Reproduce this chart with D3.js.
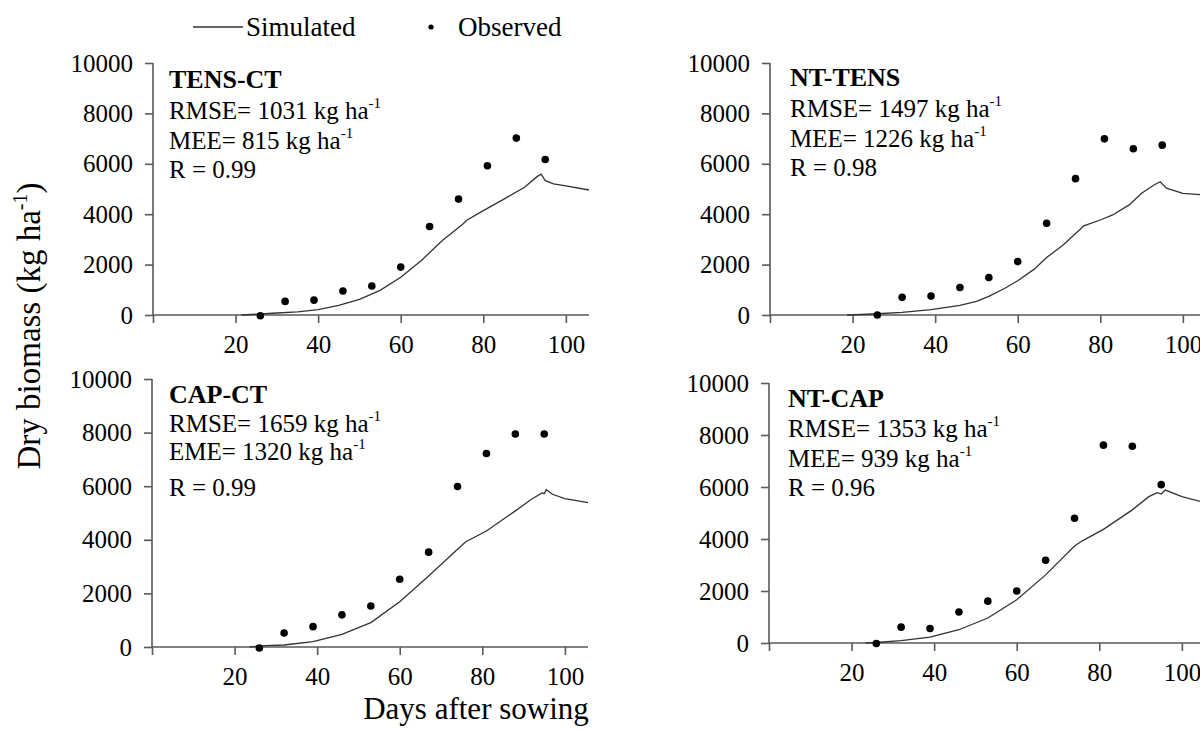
<!DOCTYPE html>
<html>
<head>
<meta charset="utf-8">
<script src="https://cdn.jsdelivr.net/npm/d3@7"></script>
<style>
	body { margin: 0; background: #fff; }
	svg text { font-family: "Liberation Serif", Tinos, "Times New Roman", "DejaVu Serif", serif; fill: #000; }
</style>
</head>
<body>
<div id="chart"></div>
<script>

// observed sampling days and values (kg/ha)
var obsDays = [26, 32, 39, 46, 53, 60, 67, 74, 81, 88, 95];
var obsTensCt = [-30, 540, 590, 950, 1150, 1900, 3510, 4600, 5920, 7020, 6170];
var obsNtTens = [0, 700, 750, 1090, 1490, 2120, 3640, 5410, 6990, 6600, 6740];
var obsCapCt = [-40, 520, 760, 1200, 1530, 2530, 3540, 5990, 7220, 7950, 7950];
var obsNtCap = [-20, 610, 560, 1190, 1610, 2000, 3180, 4800, 7610, 7570, 6090];

// simulated curves
var simDaysTensCt = [21.5, 26, 30, 35, 40, 45, 50, 55, 60, 65, 70, 75, 76, 80, 85, 90, 93, 94, 95, 97, 100, 105.6];
var simTensCt = [0, 40, 80, 120, 210, 380, 620, 980, 1500, 2160, 2950, 3600, 3760, 4140, 4600, 5070, 5490, 5590, 5330, 5200, 5120, 4960];

var simDaysNtTens = [18.7, 22, 26, 32, 39, 46, 50, 53, 57, 60, 64, 67, 71, 75, 76, 80, 83, 87, 90, 93, 94.5, 96, 100, 105.6];
var simNtTens = [0, 20, 50, 105, 210, 380, 540, 740, 1070, 1360, 1820, 2280, 2780, 3380, 3540, 3770, 3970, 4370, 4830, 5160, 5290, 5030, 4830, 4760];

var simDaysCapCt = [23.7, 26, 32, 39, 46, 53, 60, 67, 74, 76, 81, 88, 92, 94.5, 95, 95.5, 97, 100, 105.6];
var simCapCt = [0, 40, 75, 200, 470, 910, 1690, 2650, 3650, 3930, 4330, 5080, 5520, 5750, 5720, 5870, 5700, 5540, 5390];

var simDaysNtCap = [23.4, 26, 32, 39, 46, 53, 60, 67, 74, 76, 81, 88, 92, 94, 95, 96, 100, 105.6];
var simNtCap = [0, 20, 90, 230, 510, 960, 1660, 2620, 3730, 3940, 4370, 5120, 5630, 5780, 5730, 5880, 5630, 5400];

// panel labels and stats
var panelNames = ["TENS-CT", "NT-TENS", "CAP-CT", "NT-CAP"];
var rmseText = ["RMSE= 1031 kg ha", "RMSE= 1497 kg ha", "RMSE= 1659 kg ha", "RMSE= 1353 kg ha"];
var meeText = ["MEE= 815 kg ha", "MEE= 1226 kg ha", "EME= 1320 kg ha", "MEE= 939 kg ha"];
var rText = ["R = 0.99", "R = 0.98", "R = 0.99", "R = 0.96"];

var xTicks = [0, 20, 40, 60, 80, 100];
var yTicks = [0, 2000, 4000, 6000, 8000, 10000];

var panels = [
	{ name: 0, obs: obsTensCt, simX: simDaysTensCt, simY: simTensCt, left: 153, top: 63, bottom: 315, lines: [88, 119, 149, 178], tx: 169 },
	{ name: 1, obs: obsNtTens, simX: simDaysNtTens, simY: simNtTens, left: 770, top: 63, bottom: 315, lines: [86, 117, 147, 176], tx: 790 },
	{ name: 2, obs: obsCapCt, simX: simDaysCapCt, simY: simCapCt, left: 152, top: 379, bottom: 647, lines: [403, 432, 460, 496], tx: 169 },
	{ name: 3, obs: obsNtCap, simX: simDaysNtCap, simY: simNtCap, left: 769, top: 383, bottom: 643, lines: [407, 437, 467, 496], tx: 788 }
];

var width = 1200, height = 731;
var plotWidth = 436;
var axisColor = "#595959";
var serif = "'Liberation Serif', Tinos, 'Times New Roman', 'DejaVu Serif', serif";

var svg = d3.select("#chart").append("svg")
	.attr("width", width)
	.attr("height", height)
	.attr("font-family", serif);

panels.forEach(function(p){

	var x = d3.scaleLinear().domain([0, 105.6]).range([p.left, p.left + plotWidth]);
	var y = d3.scaleLinear().domain([0, 10000]).range([p.bottom, p.top]);

	var g = svg.append("g");

	// y axis
	var yAxis = g.append("g")
		.attr("transform", "translate(" + p.left + ",0)")
		.call(d3.axisLeft(y).tickValues(yTicks).tickSize(8).tickPadding(12).tickFormat(d3.format("d")));
	yAxis.attr("font-family", serif).attr("font-size", 25);

	// x axis
	var xAxis = g.append("g")
		.attr("transform", "translate(0," + p.bottom + ")")
		.call(d3.axisBottom(x).tickValues(xTicks).tickSize(8).tickPadding(12)
			.tickFormat(function(d){ return d === 0 ? "" : d; }));
	xAxis.attr("font-family", serif).attr("font-size", 25);

	g.selectAll(".domain").remove();
	g.selectAll(".tick line").attr("stroke", axisColor).attr("stroke-width", 1.6);

	// plain axis lines (no end caps)
	g.append("line")
		.attr("x1", p.left).attr("x2", p.left)
		.attr("y1", y(10000)).attr("y2", y(0))
		.attr("stroke", axisColor).attr("stroke-width", 1.6);
	g.append("line")
		.attr("x1", p.left).attr("x2", x(105.6))
		.attr("y1", y(0)).attr("y2", y(0))
		.attr("stroke", axisColor).attr("stroke-width", 1.6);

	// simulated line
	var line = d3.line()
		.x(function(d){ return x(d[0]); })
		.y(function(d){ return y(d[1]); });
	g.append("path")
		.datum(d3.zip(p.simX, p.simY))
		.attr("fill", "none")
		.attr("stroke", "#333")
		.attr("stroke-width", 1.3)
		.attr("d", line);

	// observed dots
	g.selectAll(".obs")
		.data(d3.zip(obsDays, p.obs))
		.enter().append("circle")
		.attr("cx", function(d){ return x(d[0]); })
		.attr("cy", function(d){ return y(d[1]); })
		.attr("r", 3.8)
		.attr("fill", "#000");

	// annotation
	g.append("text")
		.attr("x", p.tx).attr("y", p.lines[0])
		.attr("font-size", 26).attr("font-weight", "bold")
		.text(panelNames[p.name]);

	[rmseText[p.name], meeText[p.name]].forEach(function(s, i){
		var t = g.append("text")
			.attr("x", p.tx).attr("y", p.lines[i + 1])
			.attr("font-size", 25);
		t.append("tspan").text(s);
		t.append("tspan").attr("font-size", 15).attr("dy", -11).text("-1");
	});

	g.append("text")
		.attr("x", p.tx).attr("y", p.lines[3])
		.attr("font-size", 25)
		.text(rText[p.name]);
});

// legend
svg.append("line")
	.attr("x1", 193).attr("x2", 243)
	.attr("y1", 27).attr("y2", 27)
	.attr("stroke", "#333").attr("stroke-width", 1.3);
svg.append("text")
	.attr("x", 246).attr("y", 36)
	.attr("font-size", 27)
	.text("Simulated");
svg.append("circle")
	.attr("cx", 431).attr("cy", 27).attr("r", 2.6).attr("fill", "#000");
svg.append("text")
	.attr("x", 458).attr("y", 36)
	.attr("font-size", 27)
	.text("Observed");

// axis titles
svg.append("text")
	.attr("x", 476).attr("y", 719)
	.attr("font-size", 31)
	.style("text-anchor", "middle")
	.text("Days after sowing");

var yt = svg.append("text")
	.attr("transform", "translate(40,326) rotate(-90)")
	.attr("font-size", 33)
	.style("text-anchor", "middle");
yt.append("tspan").text("Dry biomass (kg ha");
yt.append("tspan").attr("font-size", 20).attr("dy", -13).text("-1");
yt.append("tspan").attr("dy", 13).text(")");

</script>
</body>
</html>
